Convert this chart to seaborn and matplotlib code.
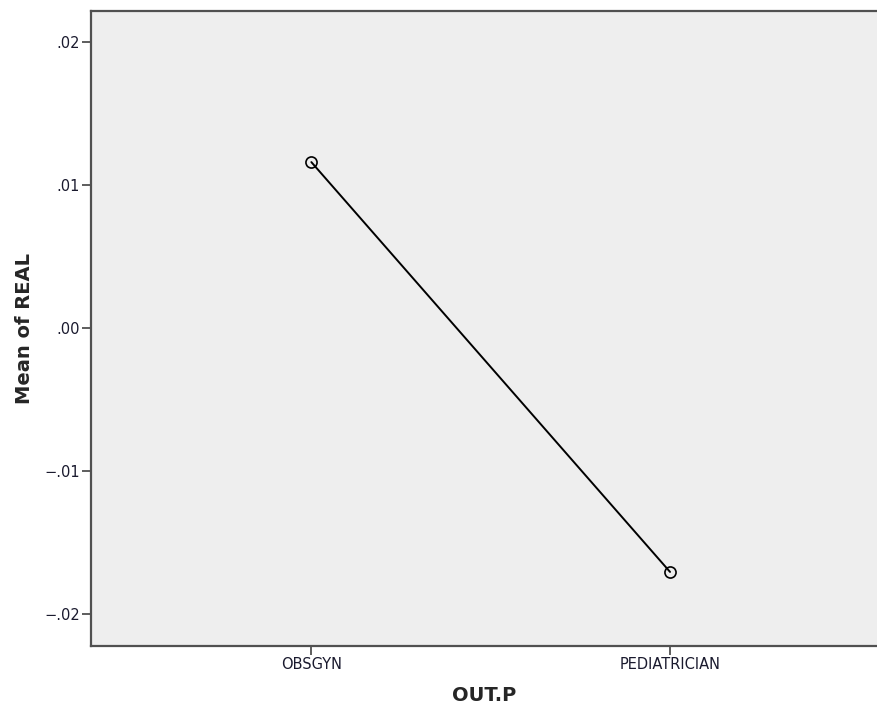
import matplotlib
matplotlib.use('Agg')
import matplotlib.pyplot as plt
import seaborn as sns
import pandas as pd

# data
categories = ['OBSGYN', 'PEDIATRICIAN']
mean_real = [0.01163, -0.01704]
ytick_values = [-0.02, -0.01, 0.0, 0.01, 0.02]
ytick_labels = ['\u2212.02', '\u2212.01', '.00', '.01', '.02']

sns.set_style('white')
plt.rcParams['font.family'] = ['DejaVu Sans']

df = pd.DataFrame({'OUT.P': categories, 'Mean of REAL': mean_real})

fig = plt.figure(figsize=(8.77, 7.10), dpi=100)
ax = fig.add_axes([0.1043, 0.0906, 0.8957, 0.8939])
ax.set_facecolor('#eeeeee')

sns.lineplot(data=df, x='OUT.P', y='Mean of REAL', ax=ax, color='black',
             linewidth=1.4, marker='o', markersize=8, markerfacecolor='none',
             markeredgecolor='black', markeredgewidth=1.2)

ax.set_xlim(-0.613, 1.577)
ax.set_ylim(-0.0222, 0.0222)
ax.set_yticks(ytick_values)
ax.set_yticklabels(ytick_labels)

for side in ['left', 'bottom', 'top']:
    ax.spines[side].set_color('#505050')
    ax.spines[side].set_linewidth(1.6)
ax.spines['right'].set_visible(False)

ax.tick_params(axis='both', length=6.5, width=1.3, color='#505050',
               labelsize=10.5, labelcolor='#1a1a2e', pad=2)
ax.tick_params(axis='both', which='both', left=True, bottom=True)

ax.set_xlabel('OUT.P', fontsize=14, fontweight='bold', labelpad=10)
ax.set_ylabel('Mean of REAL', fontsize=14, fontweight='bold', labelpad=7)

fig.savefig('out.png', dpi=100)
